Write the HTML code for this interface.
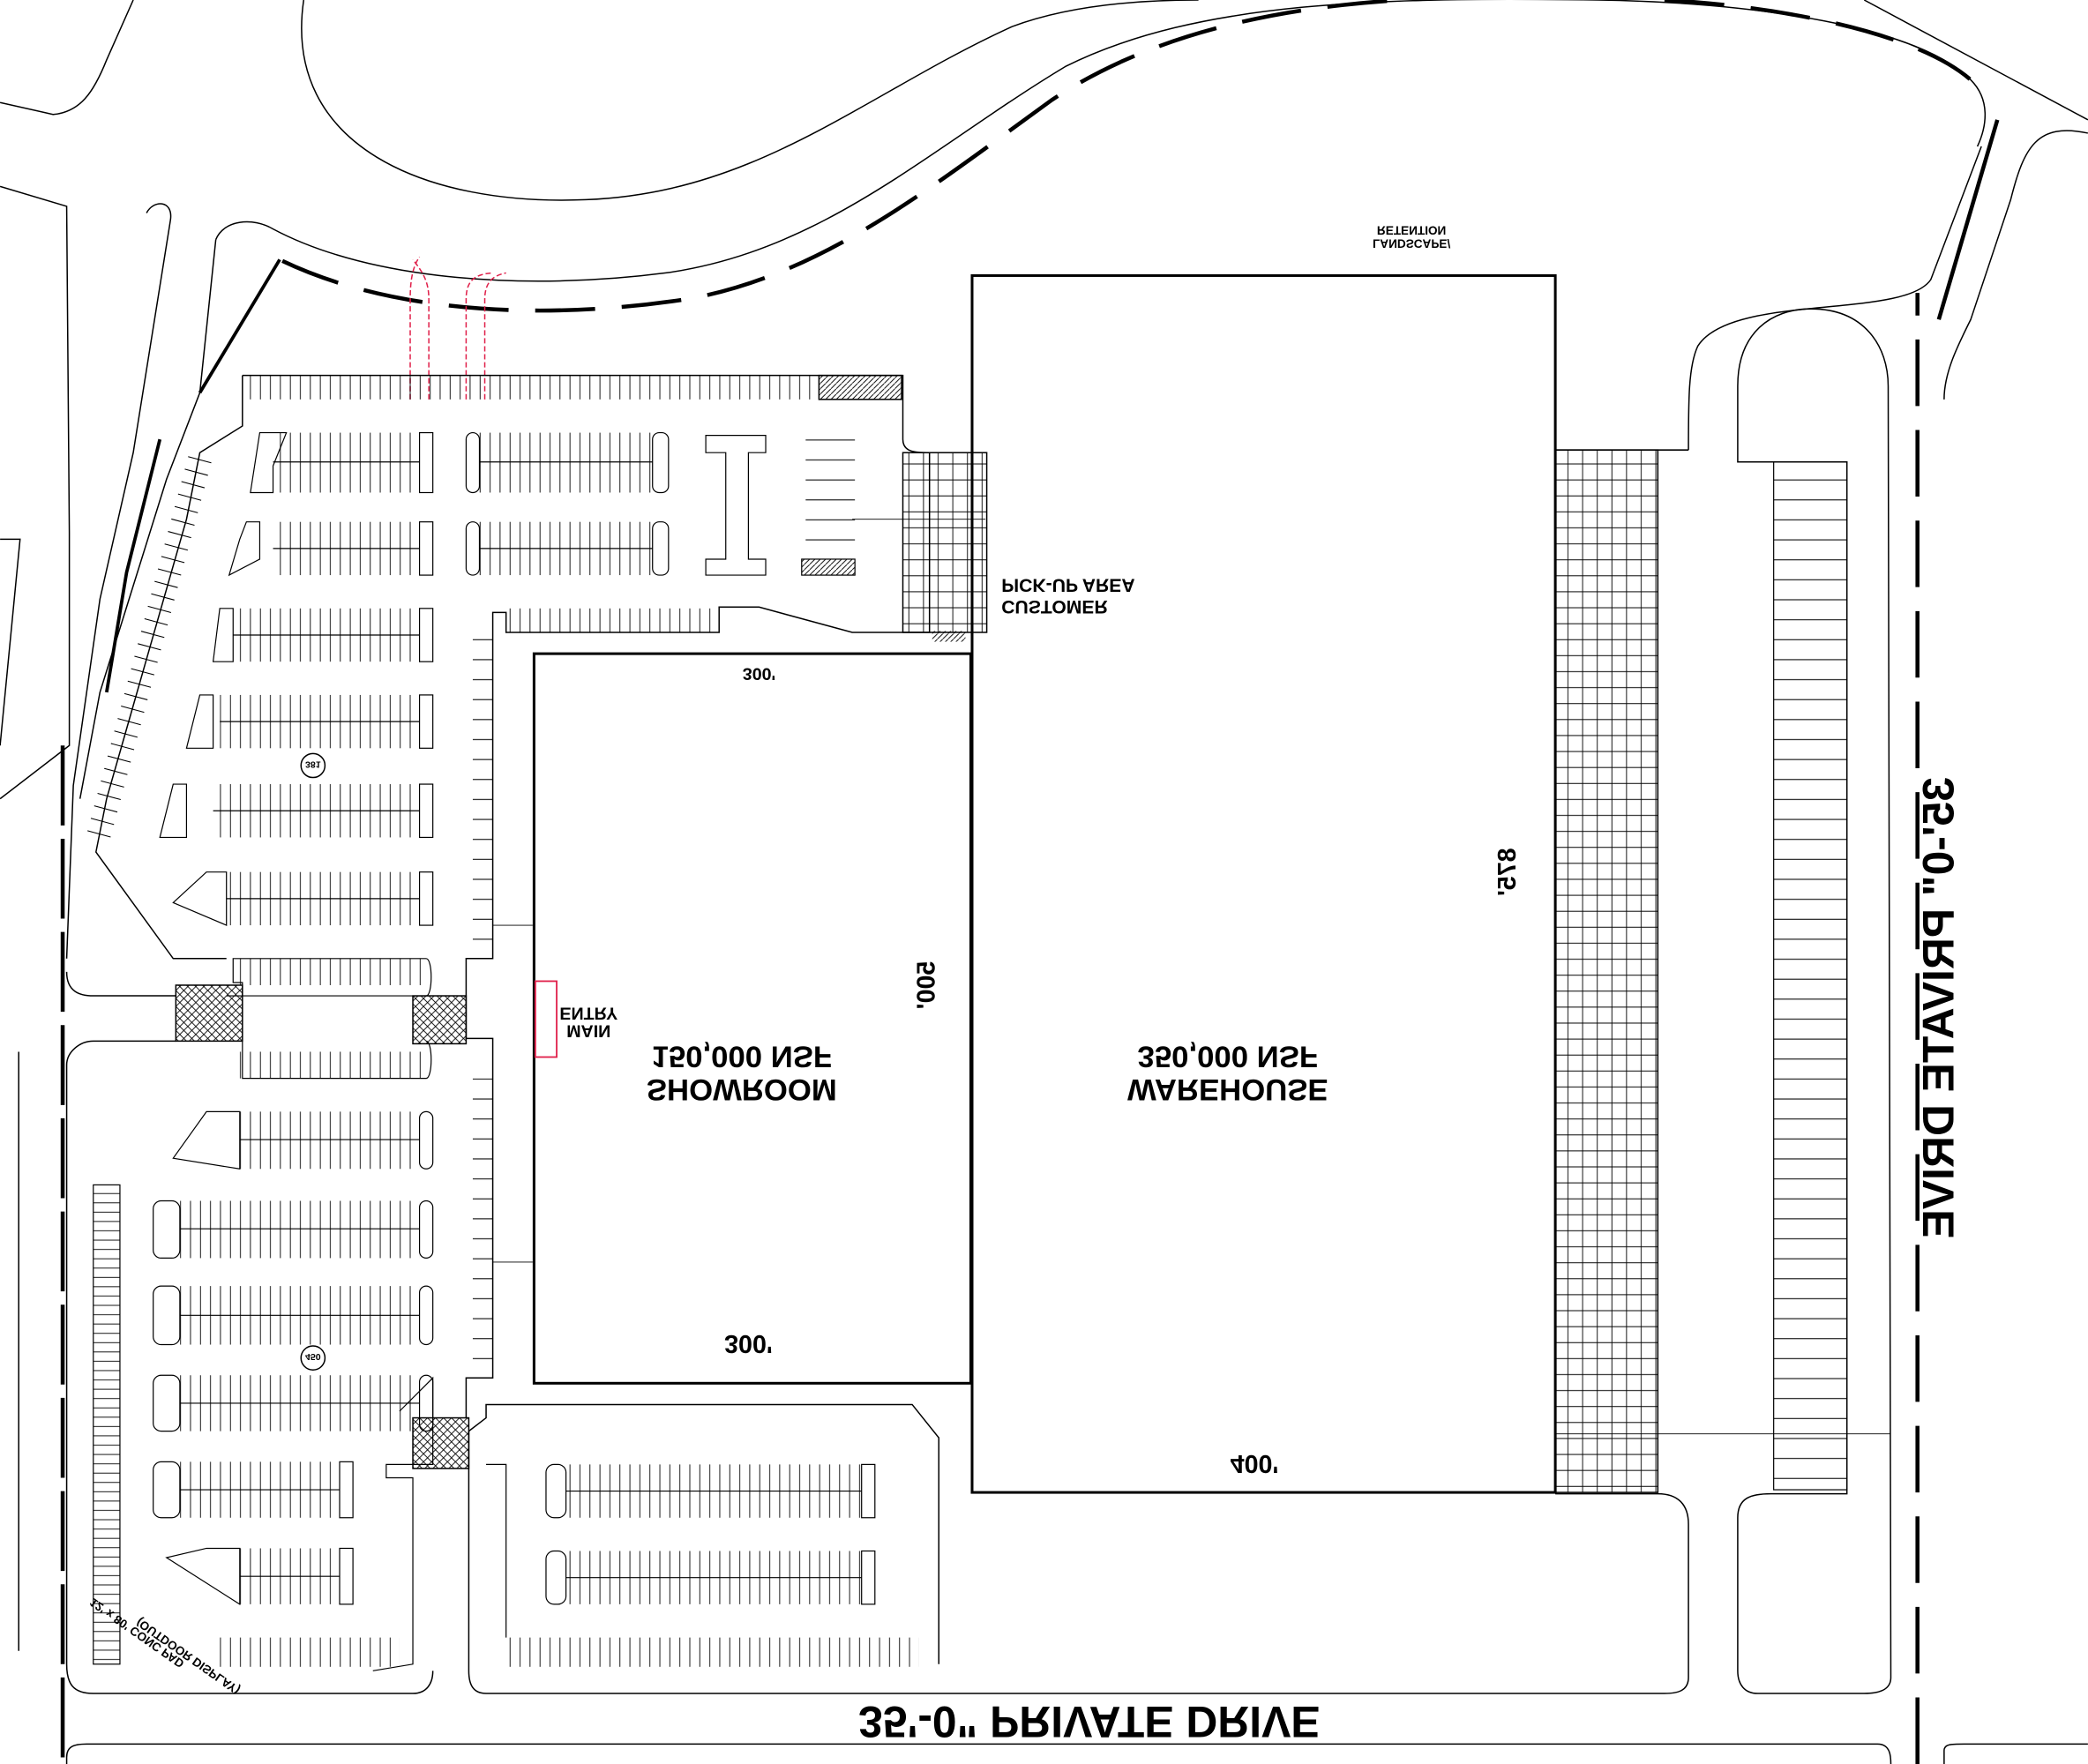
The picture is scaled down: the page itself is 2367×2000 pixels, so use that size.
<!DOCTYPE html>
<html><head><meta charset="utf-8"><style>
html,body{margin:0;padding:0;background:#fff}
svg{display:block}
text{font-family:"Liberation Sans",sans-serif;font-weight:bold;fill:#000}
</style></head><body>
<svg width="2367" height="2000" viewBox="0 0 1568 1325" xmlns="http://www.w3.org/2000/svg">
<defs>
<pattern id="vs" width="7.5" height="10" patternUnits="userSpaceOnUse"><line x1="0.5" y1="0" x2="0.5" y2="10" stroke="#000" stroke-width="0.6"/></pattern>
<pattern id="hs" width="10" height="15" patternUnits="userSpaceOnUse"><line x1="0" y1="0.5" x2="10" y2="0.5" stroke="#000" stroke-width="0.7"/></pattern>
<pattern id="hs7" width="10" height="7" patternUnits="userSpaceOnUse"><line x1="0" y1="0.5" x2="10" y2="0.5" stroke="#000" stroke-width="0.6"/></pattern>
<pattern id="grid" width="11" height="12" patternUnits="userSpaceOnUse"><path d="M0 0.5H11M0.5 0V12" stroke="#000" stroke-width="0.6" fill="none"/></pattern>
<pattern id="xh" width="6" height="6" patternUnits="userSpaceOnUse"><path d="M0 0L6 6M6 0L0 6" stroke="#000" stroke-width="0.6"/></pattern>
<pattern id="dg" width="4" height="4" patternUnits="userSpaceOnUse"><path d="M0 4L4 0" stroke="#000" stroke-width="0.6"/></pattern>
</defs>
<g fill="none" stroke="#000" stroke-width="1">
<path d="M228 0 C212 110 320 155 440 150 C570 145 650 70 760 20 C800 5 850 0 900 0"/>
<path d="M162 180 C168 165 190 163 205 172 C280 212 400 218 500 205 C620 188 700 110 800 50 C900 0 1040 -2 1200 0 C1320 2 1440 20 1480 60 C1495 75 1492 95 1485 110"/>
<path d="M212 196 C300 238 420 240 520 224 C620 205 700 140 790 75 C880 15 1000 -2 1120 -2" stroke-width="3" stroke-dasharray="45 20"/>
<path d="M1250 0 C1340 5 1440 25 1480 60" stroke-width="3" stroke-dasharray="45 20"/>
<path d="M1400 0 L1568 90"/>
<path d="M1568 100 C1530 92 1520 110 1510 150 L1480 240 C1470 260 1460 280 1460 300"/>
<path d="M1500 90 L1456 240" stroke-width="3"/>
<path d="M1488 110 L1450 210 C1430 240 1300 220 1275 260 C1268 275 1268 300 1268 338"/>
<path d="M0 140 L50 155 L52 400 L52 560 L0 600"/>
<path d="M0 77 L40 86 C60 84 70 70 80 45 L100 0"/>
<path d="M0 405 L15 405 L0 560"/>
<path d="M110 160 C115 150 130 150 128 165 L100 340 L75 450 L55 590 L50 720"/>
<path d="M162 180 L150 295 L125 360 L100 440 L75 520 L60 600"/>
<path d="M210 195 L150 295" stroke-width="2.5"/>
<path d="M120 330 L95 430 L80 520" stroke-width="2.5"/>
<path d="M47 560 L47 1325" stroke-width="3" stroke-dasharray="60 10"/>
<path d="M14 790 L14 1240"/>
<path d="M50 1325 L50 1320 C50 1312 55 1310 65 1310 L1410 1310 C1420 1310 1420 1320 1420 1325"/>
<path d="M1440 1325 L1440 220" stroke-width="3" stroke-dasharray="50 18"/>
<path d="M1460 1325 L1460 1315 C1460 1310 1465 1310 1475 1310 L1568 1310"/>
<path d="M1168 338 L1268 338"/>
<path d="M1418 290 L1420 1260 C1420 1270 1410 1272 1400 1272 L1320 1272 C1310 1272 1305 1265 1305 1255 L1305 1140 C1305 1125 1315 1122 1330 1122 L1387 1122 L1387 347 L1305 347 L1305 290 C1305 250 1330 232 1360 232 C1400 232 1418 260 1418 290"/>
<path d="M1168 1122 L1245 1122 C1260 1122 1268 1130 1268 1145 L1268 1260 C1268 1270 1260 1272 1250 1272 L365 1272 C355 1272 352 1265 352 1255 L352 1075 L365 1065 L365 1055 L685 1055 L705 1080 L705 1250"/>
<path d="M325 1255 C325 1265 320 1272 310 1272 L70 1272 C55 1272 50 1265 50 1250 L50 800 C50 790 60 782 70 782 L132 782"/>
<path d="M50 730 C50 745 60 748 70 748 L132 748"/>
</g>
<g fill="none" stroke="#e0204a" stroke-width="1" stroke-dasharray="4 2">
<path d="M308 300 L308 225 C308 210 310 200 315 193"/><path d="M322 300 L322 225 C322 212 318 205 310 195"/>
<path d="M350 300 L350 225 C350 212 355 206 370 205"/><path d="M364 300 L364 225 C364 212 370 207 380 205"/>
</g>
<rect x="730" y="207" width="438" height="914" fill="none" stroke="#000" stroke-width="2"/>
<rect x="401" y="491" width="328" height="548" fill="none" stroke="#000" stroke-width="2"/>
<rect x="402" y="737" width="16" height="57" fill="none" stroke="#e0204a" stroke-width="1.2"/>
<rect x="678" y="340" width="63" height="135" fill="url(#grid)" stroke="#000"/>
<rect x="1168" y="338" width="77" height="783" fill="url(#grid)" stroke="#000"/>
<rect x="1332" y="347" width="55" height="772" fill="url(#hs)" stroke="#000" stroke-width="0.8"/>
<path d="M182 282 L678 282 L678 330 C678 340 688 340 698 340 L698 475 L640 475 L570 456 L540 456 L540 475 L380 475 L380 460 L370 460 L370 720 L350 720 L350 780 L370 780 L370 1035 L350 1035 L350 1065" fill="none" stroke="#000"/>
<path d="M182 282 L182 320 L150 340 L140 390 L120 460 L100 530 L80 600 L72 640 L130 720 L170 720" fill="none" stroke="#000"/>
<rect x="185" y="282" width="430" height="18" fill="url(#vs)"/>
<rect x="615" y="282" width="62" height="18" fill="url(#dg)" stroke="#000"/>
<rect x="380" y="457" width="155" height="18" fill="url(#vs)"/>
<path d="M150 345 L72 635" stroke="#000" stroke-width="18" stroke-dasharray="0.7 9" fill="none"/>
<g stroke="#000" fill="none" stroke-width="0.8">
<g fill="url(#vs)" stroke="none">
<rect x="205" y="325" width="110" height="45"/><rect x="360" y="325" width="130" height="45"/>
<rect x="205" y="392" width="110" height="40"/><rect x="360" y="392" width="130" height="40"/>
<rect x="175" y="457" width="140" height="40"/><rect x="165" y="522" width="150" height="40"/>
<rect x="160" y="589" width="155" height="40"/><rect x="170" y="655" width="145" height="40"/>
<rect x="180" y="835" width="135" height="43"/><rect x="135" y="902" width="180" height="43"/>
<rect x="135" y="966" width="180" height="44"/><rect x="135" y="1033" width="180" height="42"/>
<rect x="135" y="1098" width="120" height="42"/><rect x="180" y="1163" width="75" height="42"/>
<rect x="425" y="1100" width="222" height="40"/><rect x="425" y="1165" width="222" height="40"/>
<rect x="380" y="1230" width="310" height="22"/>
<rect x="160" y="1230" width="140" height="22"/>
<rect x="175" y="720" width="145" height="20"/><rect x="175" y="790" width="145" height="20"/>
</g>
<path d="M205 347H315M360 347H490M205 412H315M360 412H490M175 477H315M165 542H315M160 609H315M170 675H315M180 856H315M135 923H315M135 988H315M135 1054H315M135 1119H255M180 1184H255M425 1120H647M425 1185H647"/>
<rect x="70" y="890" width="20" height="360" fill="url(#hs7)"/>
<rect x="355" y="470" width="15" height="250" fill="url(#hs)" stroke="none"/>
<rect x="355" y="810" width="15" height="220" fill="url(#hs)" stroke="none"/>
<rect x="605" y="330" width="37" height="90" fill="url(#hs)" stroke="none"/>
<rect x="315" y="325" width="10" height="45"/><rect x="315" y="392" width="10" height="40"/>
<rect x="315" y="457" width="10" height="40"/><rect x="315" y="522" width="10" height="40"/>
<rect x="315" y="589" width="10" height="40"/><rect x="315" y="655" width="10" height="40"/>
<rect x="315" y="835" width="10" height="43" rx="5"/><rect x="315" y="902" width="10" height="43" rx="5"/>
<rect x="315" y="966" width="10" height="44" rx="5"/><rect x="315" y="1033" width="10" height="42" rx="5"/>
<rect x="255" y="1098" width="10" height="42"/><rect x="255" y="1163" width="10" height="42"/>
<rect x="350" y="325" width="10" height="45" rx="5"/><rect x="350" y="392" width="10" height="40" rx="5"/>
<rect x="490" y="325" width="12" height="45" rx="5"/><rect x="490" y="392" width="12" height="40" rx="5"/>
<rect x="647" y="1100" width="10" height="40"/><rect x="647" y="1165" width="10" height="40"/>
<rect x="410" y="1100" width="15" height="40" rx="6"/><rect x="410" y="1165" width="15" height="40" rx="6"/>
<rect x="115" y="902" width="20" height="43" rx="6"/><rect x="115" y="966" width="20" height="44" rx="6"/>
<rect x="115" y="1033" width="20" height="42" rx="6"/><rect x="115" y="1098" width="20" height="42" rx="6"/>
<path d="M530 327 L575 327 L575 340 L562 340 L562 420 L575 420 L575 432 L530 432 L530 420 L545 420 L545 340 L530 340Z"/>
<rect x="602" y="420" width="40" height="12" fill="url(#dg)"/>
<path d="M195 325 L215 325 L205 350 L205 370 L188 370Z"/>
<path d="M185 392 L195 392 L195 420 L172 432 L180 405Z"/>
<path d="M165 457 L175 457 L175 497 L160 497Z"/>
<path d="M150 522 L160 522 L160 562 L140 562Z"/>
<path d="M130 589 L140 589 L140 629 L120 629Z"/>
<path d="M155 655 L170 655 L170 695 L130 678Z"/>
<path d="M155 835 L180 835 L180 878 L130 870Z"/>
<path d="M155 1163 L180 1163 L180 1205 L125 1170Z"/>
<path d="M170 748 L182 748 L182 738 L175 738 L175 720 L320 720 C325 720 325 748 320 748 L182 748"/>
<path d="M170 782 L182 782 L182 810 L320 810 C325 810 325 782 320 782"/>
<path d="M300 1060 L325 1035 L325 1100 L290 1100 L290 1110 L310 1110 L310 1250 L280 1255"/>
<path d="M365 1100 L380 1100 L380 1230"/>
</g>
<g stroke="#000" fill="url(#xh)">
<rect x="132" y="740" width="50" height="42"/><rect x="310" y="748" width="40" height="36"/><rect x="310" y="1065" width="42" height="38"/>
</g>
<rect x="700" y="474" width="25" height="8" fill="url(#dg)"/>
<g stroke="#000" stroke-width="0.6" fill="none">
<path d="M1168 1077 L1420 1077"/><path d="M640 390 L740 390"/><path d="M370 695 L400 695"/><path d="M370 948 L400 948"/>
</g>
<circle cx="235" cy="575" r="9" fill="none" stroke="#000"/><circle cx="235" cy="1020" r="9" fill="none" stroke="#000"/>
<text transform="translate(235,572) scale(1,-1)" font-size="7" font-weight="normal" text-anchor="middle">381</text>
<text transform="translate(235,1017) scale(1,-1)" font-size="7" font-weight="normal" text-anchor="middle">450</text>
<g>
<text transform="translate(557,811) scale(1,-1)" font-size="23" text-anchor="middle">SHOWROOM</text>
<text transform="translate(557,786) scale(1,-1)" font-size="23" text-anchor="middle">150,000 NSF</text>
<text transform="translate(922,811) scale(1,-1)" font-size="23" text-anchor="middle">WAREHOUSE</text>
<text transform="translate(922,786) scale(1,-1)" font-size="23" text-anchor="middle">350,000 NSF</text>
<text transform="translate(442,757) scale(1,-1)" font-size="13" text-anchor="middle">ENTRY</text>
<text transform="translate(442,770) scale(1,-1)" font-size="13" text-anchor="middle">MAIN</text>
<text transform="translate(752,451) scale(1,-1)" font-size="14">CUSTOMER</text>
<text transform="translate(752,435) scale(1,-1)" font-size="14">PICK-UP AREA</text>
<text transform="translate(1060,180) scale(1,-1)" font-size="9" font-weight="normal" text-anchor="middle">LANDSCAPE/</text>
<text transform="translate(1060,170) scale(1,-1)" font-size="9" font-weight="normal" text-anchor="middle">RETENTION</text>
<text transform="translate(570,502) scale(1,-1)" font-size="13" font-weight="normal" text-anchor="middle">300'</text>
<text transform="translate(562,1003) scale(1,-1)" font-size="19" text-anchor="middle">300'</text>
<text transform="translate(942,1093) scale(1,-1)" font-size="19" text-anchor="middle">400'</text>
<text transform="translate(702,740) rotate(90) scale(1,-1)" font-size="19" text-anchor="middle">500'</text>
<text transform="translate(1138,655) rotate(90) scale(1,-1)" font-size="19" text-anchor="middle">875'</text>
<text transform="translate(818,1282) scale(1,-1)" font-size="33" text-anchor="middle">35'-0" PRIVATE DRIVE</text>
<text transform="translate(1467,757) rotate(90) scale(1,-1)" font-size="33" text-anchor="middle">35'-0" PRIVATE DRIVE</text>
<text transform="translate(105,1215) rotate(35) scale(1,-1)" font-size="9" font-weight="normal">(OUTDOOR DISPLAY)</text>
<text transform="translate(70,1200) rotate(35) scale(1,-1)" font-size="9" font-weight="normal">12' x 80' CONC PAD</text>
</g>
</svg>
</body></html>
